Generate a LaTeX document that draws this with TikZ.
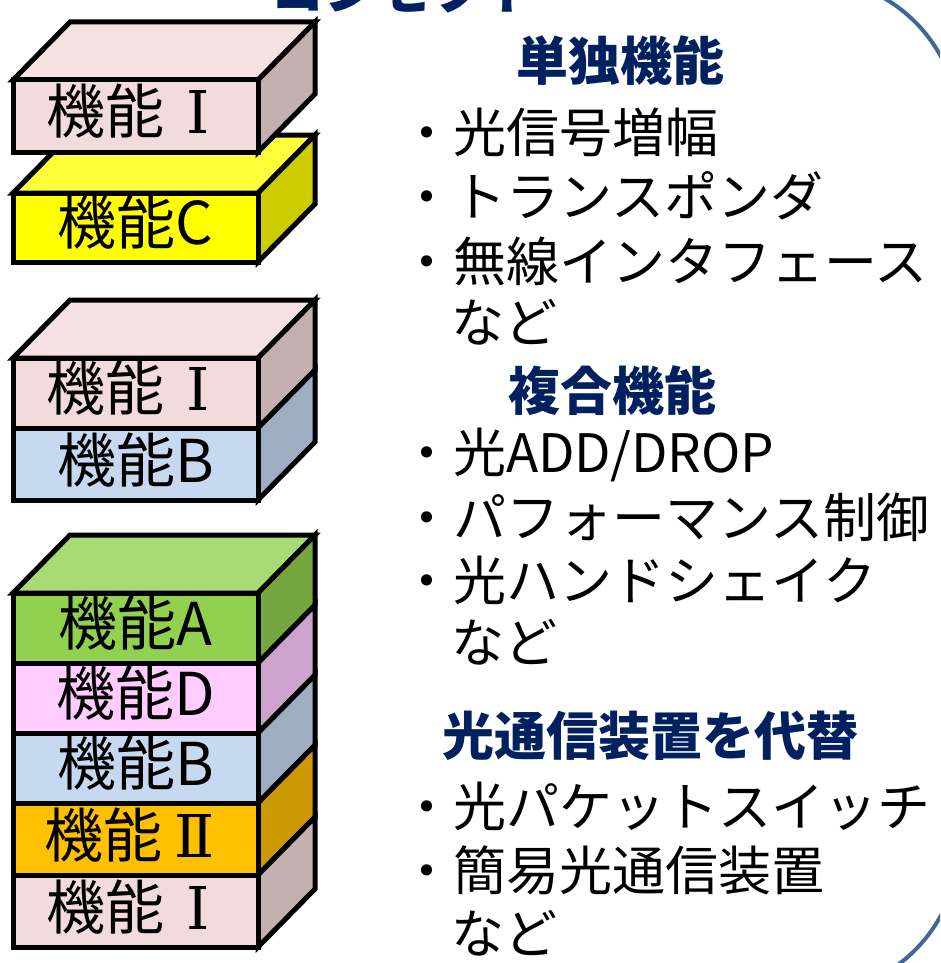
\documentclass[tikz,border=0pt]{standalone}
\usepackage{fontspec}
\setmainfont{Noto Sans CJK JP}
\newfontfamily\romanf{DejaVu Serif}
\definecolor{navy}{HTML}{002060}
\definecolor{frameblue}{HTML}{3F6898}
\definecolor{pinkF}{HTML}{F2DCDB}
\definecolor{pinkT}{HTML}{F5E2E1}
\definecolor{pinkS}{HTML}{C3B0AF}
\definecolor{yelF}{HTML}{FFFF00}
\definecolor{yelT}{HTML}{FFFF3A}
\definecolor{yelS}{HTML}{CCCC00}
\definecolor{bluF}{HTML}{C6D9F1}
\definecolor{bluS}{HTML}{9EAEC2}
\definecolor{grnF}{HTML}{92D050}
\definecolor{grnT}{HTML}{A9DA74}
\definecolor{grnS}{HTML}{75A640}
\definecolor{magF}{HTML}{FFCCFF}
\definecolor{magS}{HTML}{CCA3CC}
\definecolor{orgF}{HTML}{FFC000}
\definecolor{orgS}{HTML}{CC9A00}
\tikzset{
  boxline/.style={draw=black, line width=5pt, line join=miter},
  lbl/.style={font=\fontsize{59}{62}\selectfont, anchor=base, inner sep=0pt},
  item/.style={font=\fontsize{53}{56}\selectfont, anchor=base west, inner sep=0pt},
  head/.style={font=\fontsize{52}{56}\selectfont\bfseries, text=navy, anchor=base, inner sep=0pt},
}
% #1 ytop, #2 ybot, #3 fill
\newcommand{\slabfront}[3]{\filldraw[boxline, fill=#3] (13,#1) rectangle (258,#2);}
\newcommand{\slabside}[3]{\filldraw[boxline, fill=#3] (258,#1) -- (315,#1-58) -- (315,#2-58) -- (258,#2) -- cycle;}
\newcommand{\slabtop}[2]{\filldraw[boxline, fill=#2] (13,#1) -- (70,#1-58) -- (315,#1-58) -- (258,#1) -- cycle;}
\newcommand{\romI}{\hspace{22pt}{\romanf Ⅰ}}
\newcommand{\romII}{\hspace{12pt}{\romanf Ⅱ}}
\begin{document}
\begin{tikzpicture}[x=1pt, y=-1pt]
\useasboundingbox (0,0) rectangle (940,963);
\begin{scope}
\clip (0,0) rectangle (940,963);
% frame
\draw[frameblue, line width=4pt, rounded corners=150pt] (-200,-22) rectangle (959,994);
% title (cut off)
\node[head, font=\fontsize{54}{58}\selectfont\bfseries] (title) at (405,10) {コンセプト};
\end{scope}

% ---- stack 1 ----
\slabtop{193}{yelT}
\slabside{193}{262}{yelS}
\slabfront{193}{262}{yelF}
\node[lbl] (c1) at (135.5,244) {機能C};
\slabtop{80}{pinkT}
\slabside{80}{152}{pinkS}
\slabfront{80}{152}{pinkF}
\node[lbl] (i1) at (128,134) {機能\romI};

% ---- stack 2 ----
\slabtop{358}{pinkT}
\slabside{358}{428}{pinkS}
\slabside{428}{500}{bluS}
\slabfront{358}{428}{pinkF}
\slabfront{428}{500}{bluF}
\node[lbl] (i2) at (128,410) {機能\romI};
\node[lbl] (b2) at (135.5,482) {機能B};

% ---- stack 3 ----
\slabtop{593}{grnT}
\slabside{593}{663}{grnS}
\slabside{663}{733}{magS}
\slabside{733}{803}{bluS}
\slabside{803}{875}{orgS}
\slabside{875}{947}{pinkS}
\slabfront{593}{663}{grnF}
\slabfront{663}{733}{magF}
\slabfront{733}{803}{bluF}
\slabfront{803}{875}{orgF}
\slabfront{875}{947}{pinkF}
\node[lbl] (a3) at (135.5,645) {機能A};
\node[lbl] (d3) at (135.5,715) {機能D};
\node[lbl] (b3) at (135.5,785) {機能B};
\node[lbl] (ii3) at (130,857) {機能\romII};
\node[lbl] (i3) at (128,929) {機能\romI};

% ---- right text ----
\node[head] (h1) at (620,81) {単独機能};
\node[item] (t1) at (400,152) {・光信号増幅};
\node[item] (t2) at (400,216) {・トランスポンダ};
\node[item] (t3) at (400,281) {・無線インタフェース};
\node[item] (t4) at (451,342) {など};

\node[head] (h2) at (612,410) {複合機能};
\node[item] (t5) at (400,472) {・光ADD/DROP};
\node[item] (t6) at (400,537) {・パフォーマンス制御};
\node[item] (t7) at (400,600) {・光ハンドシェイク};
\node[item] (t8) at (451,662) {など};

\node[head] (h3) at (650,755) {光通信装置を代替};
\node[item] (t9) at (400,826) {・光パケットスイッチ};
\node[item] (t10) at (400,890) {・簡易光通信装置};
\node[item] (t11) at (451,953) {など};
\end{tikzpicture}
\end{document}
